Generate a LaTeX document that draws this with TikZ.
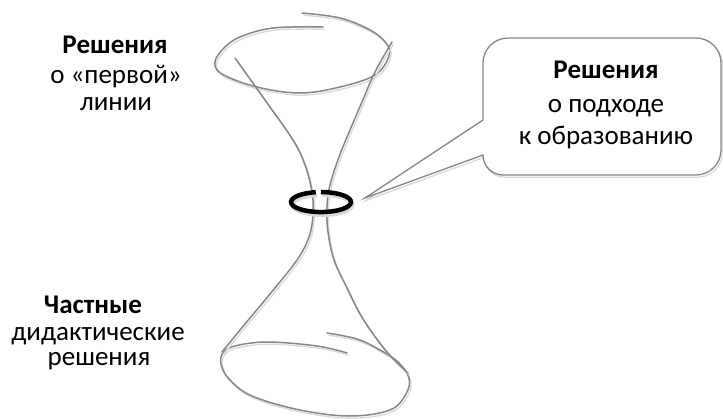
\documentclass[tikz,border=0pt]{standalone}
\usepackage{fontspec}
\setmainfont{Carlito}
\begin{document}
\begin{tikzpicture}[x=1pt,y=-1pt,
  shadowed/.style={preaction={draw=gray!30, line width=1.3pt, transform canvas={xshift=1.5pt,yshift=-2.2pt}}},
  curvestyle/.style={draw=gray!95, line width=1.5pt, line cap=round, shadowed},
  ringstyle/.style={draw=black, line width=4.5pt, line cap=butt,
     preaction={draw=gray!30, line width=4pt, transform canvas={xshift=1.5pt,yshift=-3pt}}},
  calloutstyle/.style={draw=gray!95, line width=1.3pt, fill=white, line join=miter, shadowed},
  lbl/.style={anchor=base, inner sep=0pt, font=\fontsize{27}{32}\selectfont},
  blbl/.style={lbl, font=\fontsize{27}{32}\selectfont\bfseries}]
\useasboundingbox (0,0) rectangle (723,418);

% top ring (spiral ellipse)
\draw[curvestyle] plot[smooth, tension=0.6] coordinates {(302,13) (340,18) (370,30) (386,43) (389,56) (375,75) (340,87) (300,93) (257,87) (222,74) (215,62) (224,48) (240,37) (273,28) (323,27)};

% bottom ring (spiral ellipse)
\draw[curvestyle] plot[smooth, tension=0.6] coordinates {(347,353) (317,346) (267,342) (235,346) (223,353) (221,364) (229,379) (252,396) (300,410) (350,416) (390,410) (406,394) (409,378) (398,362) (380,350) (357,339) (327,333)};

% left and right hyperbola lines
\draw[curvestyle] plot[smooth, tension=0.6] coordinates {(235,58) (265,100) (293,140) (305,165) (312,192) (313,215) (309,237) (297,260) (270,294) (245,324) (222,352)};
\draw[curvestyle] plot[smooth, tension=0.6] coordinates {(392,42) (375,72) (362,102) (350,130) (339,157) (330,185) (327,207) (328,232) (334,260) (346,286) (363,319) (387,352) (408,373)};

% neck ring
\coordinate (ringstart) at (315.8,192.2);
\draw[ringstyle] (ringstart) arc[start angle=100, end angle=450, x radius=30pt, y radius=10pt];

% callout
\coordinate (tailtop) at (483,120);
\coordinate (tailtip) at (365,198);
\draw[calloutstyle] (tailtop) -- (483,63) arc[start angle=180, end angle=90, radius=25pt]
  -- (696,38) arc[start angle=90, end angle=0, radius=25pt]
  -- (721,150) arc[start angle=0, end angle=-90, radius=25pt]
  -- (503,175) arc[start angle=-90, end angle=-180, radius=20pt]
  -- (tailtip) -- cycle;

% texts
\node[blbl] (t1) at (115,53) {Решения};
\node[lbl] (t2) at (116,83) {о «первой»};
\node[lbl] (t3) at (116,110) {линии};
\node[blbl] (b1) at (93,313) {Частные};
\node[lbl] (b2) at (98,340) {дидактические};
\node[lbl] (b3) at (99,365) {решения};
\node[blbl] (c1) at (606,78) {Решения};
\node[lbl] (c2) at (606,112) {о подходе};
\node[lbl] (c3) at (606,144) {к образованию};
\end{tikzpicture}
\end{document}
